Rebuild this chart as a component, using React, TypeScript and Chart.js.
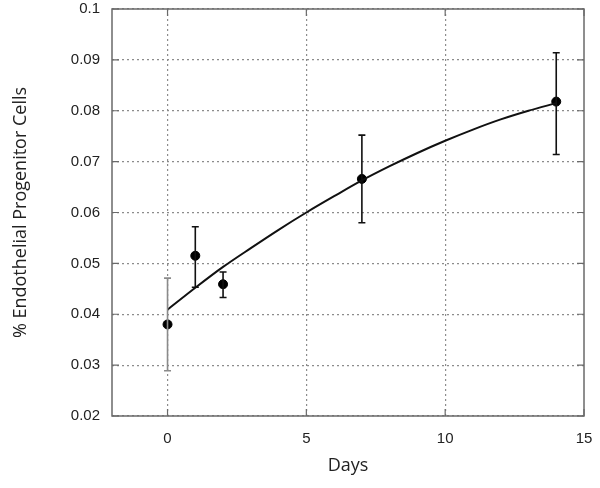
import React, { useEffect, useRef } from "react";
import { Chart, registerables } from "chart.js";

Chart.register(...registerables);

// Measured data points (mean with error bars)
const days = [0, 1, 2, 7, 14];
const means = [0.038, 0.0515, 0.0459, 0.0666, 0.0818];
const errLow = [0.0289, 0.0453, 0.0433, 0.058, 0.0714];
const errHigh = [0.0471, 0.0572, 0.0483, 0.0752, 0.0914];
const errColors = ["#8a8a8a", "#111111", "#111111", "#111111", "#111111"];

// Fitted curve
const fitDays = [0, 1, 2, 3, 4, 5, 6, 7, 8, 9, 10, 11, 12, 13, 14];
const fitValues = [0.0409, 0.0452, 0.0493, 0.053, 0.0566, 0.06, 0.0632, 0.0663, 0.0691, 0.0717, 0.0741, 0.0763, 0.0783, 0.08, 0.0815];

const xTicks = [0, 5, 10, 15];
const yTicks = [0.02, 0.03, 0.04, 0.05, 0.06, 0.07, 0.08, 0.09, 0.1];

const xTitle = "Days";
const yTitle = "% Endothelial Progenitor Cells";

const errorBarPlugin = {
  id: "errorBars",
  afterDatasetsDraw(chart: any) {
    const { ctx, scales } = chart;
    const xs = scales.x;
    const ys = scales.y;
    ctx.save();
    ctx.lineWidth = 1.6;
    for (let i = 0; i < days.length; i++) {
      const px = xs.getPixelForValue(days[i]);
      const lo = ys.getPixelForValue(errLow[i]);
      const hi = ys.getPixelForValue(errHigh[i]);
      ctx.strokeStyle = errColors[i];
      ctx.beginPath();
      ctx.moveTo(px, lo);
      ctx.lineTo(px, hi);
      ctx.moveTo(px - 3.5, lo);
      ctx.lineTo(px + 3.5, lo);
      ctx.moveTo(px - 3.5, hi);
      ctx.lineTo(px + 3.5, hi);
      ctx.stroke();
    }
    ctx.restore();
  },
};

const framePlugin = {
  id: "frame",
  afterDraw(chart: any) {
    const { ctx, chartArea, scales } = chart;
    const { left, right, top, bottom } = chartArea;
    ctx.save();
    ctx.strokeStyle = "#6a6a6a";
    ctx.lineWidth = 1.5;
    ctx.strokeRect(left, top, right - left, bottom - top);
    ctx.lineWidth = 1.2;
    const tl = 7;
    ctx.beginPath();
    for (const v of xTicks) {
      const px = scales.x.getPixelForValue(v);
      ctx.moveTo(px, bottom);
      ctx.lineTo(px, bottom - tl);
      ctx.moveTo(px, top);
      ctx.lineTo(px, top + tl);
    }
    for (const v of yTicks) {
      const py = scales.y.getPixelForValue(v);
      ctx.moveTo(left, py);
      ctx.lineTo(left + tl, py);
      ctx.moveTo(right, py);
      ctx.lineTo(right - tl, py);
    }
    ctx.stroke();
    ctx.restore();
  },
};

export default function App() {
  const ref = useRef<HTMLCanvasElement | null>(null);

  useEffect(() => {
    if (!ref.current) return;
    const chart = new Chart(ref.current, {
      type: "scatter",
      data: {
        datasets: [
          {
            type: "line",
            label: "Fit",
            data: fitDays.map((d, i) => ({ x: d, y: fitValues[i] })),
            borderColor: "#111111",
            borderWidth: 2,
            pointRadius: 0,
            cubicInterpolationMode: "monotone",
            fill: false,
          } as any,
          {
            type: "scatter",
            label: "Data",
            data: days.map((d, i) => ({ x: d, y: means[i] })),
            backgroundColor: "#000000",
            borderColor: "#000000",
            pointRadius: 4.5,
          },
        ],
      },
      options: {
        animation: false,
        responsive: false,
        maintainAspectRatio: false,
        layout: { padding: { top: 9, right: 16, left: 0, bottom: 0 } },
        plugins: {
          legend: { display: false },
          tooltip: { enabled: false },
        },
        scales: {
          x: {
            type: "linear",
            min: -2,
            max: 15,
            afterBuildTicks: (axis: any) => {
              axis.ticks = xTicks.map((v) => ({ value: v }));
            },
            afterFit: (axis: any) => {
              axis.height = 72;
              axis.paddingLeft = 0;
              axis.paddingRight = 0;
            },
            ticks: {
              color: "#222",
              padding: 14,
              font: { family: "'Liberation Sans', Arial, sans-serif", size: 15 },
              callback: (v: any) => String(v),
            },
            grid: {
              color: (c: any) => (c.tick && c.tick.value === 15 ? "rgba(0,0,0,0)" : "#8c8c8c"),
              lineWidth: 1.2,
              drawTicks: false,
              tickLength: 0,
            } as any,
            border: { display: false, dash: [2, 3] } as any,
            title: {
              display: true,
              text: xTitle,
              color: "#222",
              font: { family: "'Open Sans', sans-serif", size: 18 },
              padding: { top: 0, bottom: 11 },
            },
          },
          y: {
            type: "linear",
            min: 0.02,
            max: 0.1,
            afterBuildTicks: (axis: any) => {
              axis.ticks = yTicks.map((v) => ({ value: v }));
            },
            afterFit: (axis: any) => {
              axis.width = 112;
              axis.paddingTop = 0;
              axis.paddingBottom = 0;
            },
            ticks: {
              color: "#222",
              padding: 12,
              font: { family: "'Liberation Sans', Arial, sans-serif", size: 15 },
              callback: (v: any) => String(Number(Number(v).toFixed(3))),
            },
            grid: {
              color: "#8c8c8c",
              lineWidth: 1.2,
              drawTicks: false,
              tickLength: 0,
            } as any,
            border: { display: false, dash: [2, 3] } as any,
            title: {
              display: true,
              text: yTitle,
              color: "#222",
              font: { family: "'Open Sans', sans-serif", size: 18 },
              padding: { top: 10, bottom: 0 },
            },
          },
        },
      },
      plugins: [errorBarPlugin, framePlugin],
    });
    return () => chart.destroy();
  }, []);

  return (
    <div style={{ position: "fixed", left: 0, top: 0, width: 600, height: 488, background: "#fff" }}>
      <canvas ref={ref} width={600} height={488} style={{ width: 600, height: 488 }} />
    </div>
  );
}
